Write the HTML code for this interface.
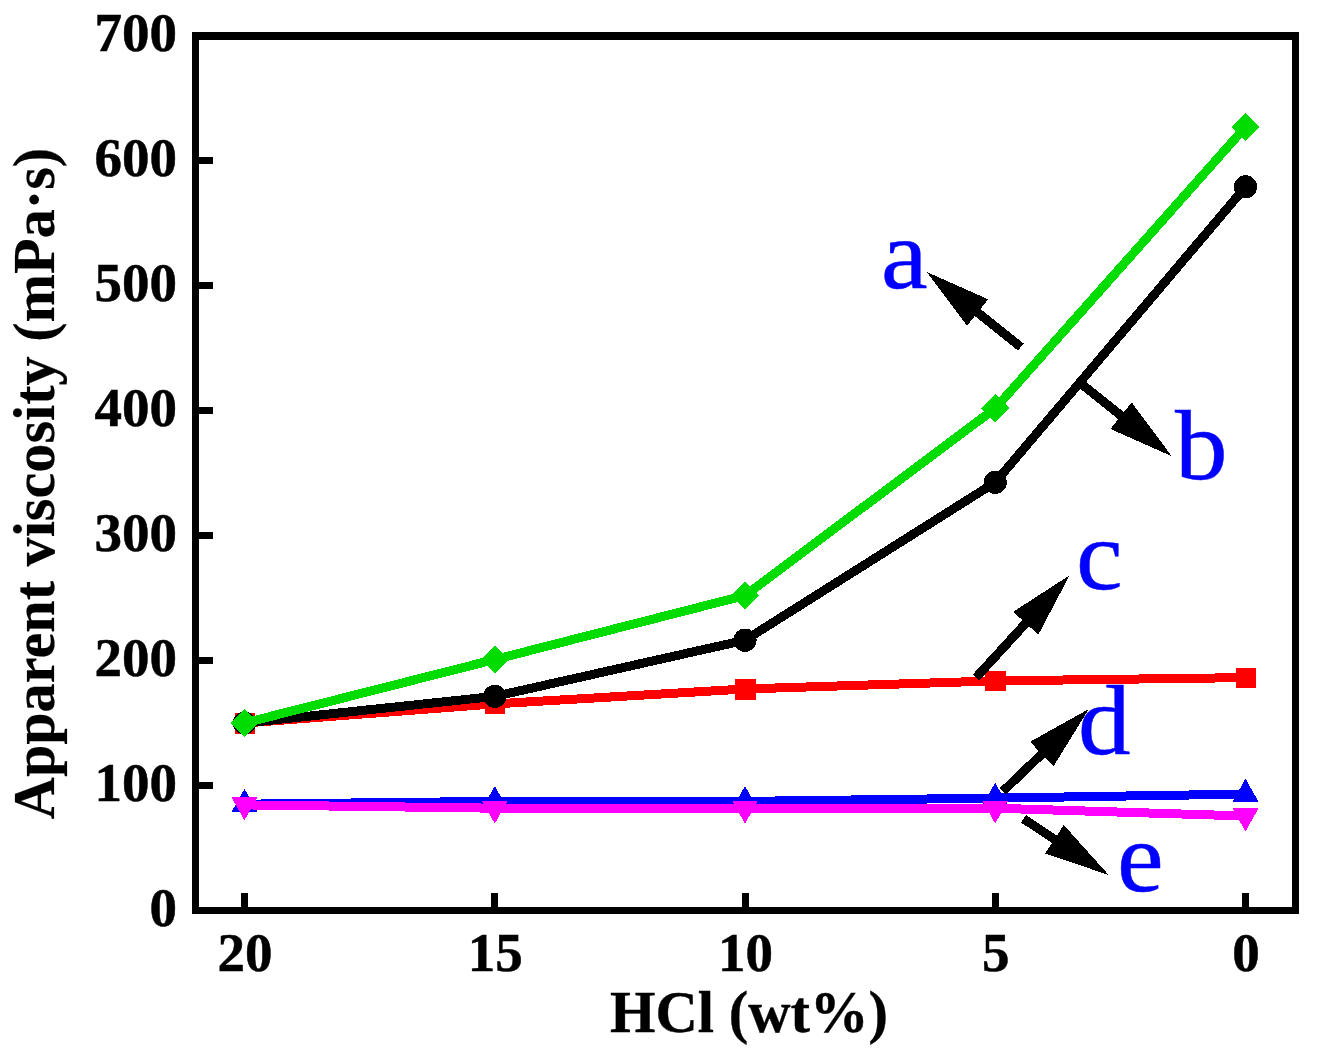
<!DOCTYPE html>
<html lang="en"><head><meta charset="utf-8"><title>Apparent viscosity vs HCl</title>
<style>html,body{margin:0;padding:0;background:#fff}svg{display:block}text{font-family:"Liberation Serif",serif}.t{font-weight:bold;font-size:55px;fill:#000;stroke:#000;stroke-width:0.5px}.ti{font-weight:bold;font-size:58.5px;fill:#000;stroke:#000;stroke-width:0.4px}.lb{font-size:100px;fill:#0000ff;stroke:#0000ff;stroke-width:0.5px}</style></head><body>
<svg width="1317" height="1058" viewBox="0 0 1317 1058" shape-rendering="crispEdges">
<rect width="1317" height="1058" fill="#fff"/>
<g shape-rendering="crispEdges">
<rect x="192" y="32" width="1107" height="8" fill="#000"/><rect x="192" y="907" width="1107" height="7" fill="#000"/><rect x="192" y="32" width="7" height="882" fill="#000"/><rect x="1292" y="32" width="7" height="882" fill="#000"/>
<rect x="199" y="782.0" width="14" height="7" fill="#000"/>
<rect x="199" y="657.0" width="14" height="7" fill="#000"/>
<rect x="199" y="532.0" width="14" height="7" fill="#000"/>
<rect x="199" y="407.0" width="14" height="7" fill="#000"/>
<rect x="199" y="282.0" width="14" height="7" fill="#000"/>
<rect x="199" y="157.0" width="14" height="7" fill="#000"/>
<rect x="241.0" y="893" width="7" height="14" fill="#000"/>
<rect x="491.25" y="893" width="7" height="14" fill="#000"/>
<rect x="741.5" y="893" width="7" height="14" fill="#000"/>
<rect x="991.75" y="893" width="7" height="14" fill="#000"/>
<rect x="1242.0" y="893" width="7" height="14" fill="#000"/>
</g>
<text class="t" x="177" y="926.0" text-anchor="end">0</text>
<text class="t" x="177" y="801.0" text-anchor="end">100</text>
<text class="t" x="177" y="676.0" text-anchor="end">200</text>
<text class="t" x="177" y="551.0" text-anchor="end">300</text>
<text class="t" x="177" y="426.0" text-anchor="end">400</text>
<text class="t" x="177" y="301.0" text-anchor="end">500</text>
<text class="t" x="177" y="176.0" text-anchor="end">600</text>
<text class="t" x="177" y="51.0" text-anchor="end">700</text>
<text class="t" x="245.0" y="971" text-anchor="middle">20</text>
<text class="t" x="495.25" y="971" text-anchor="middle">15</text>
<text class="t" x="745.5" y="971" text-anchor="middle">10</text>
<text class="t" x="995.75" y="971" text-anchor="middle">5</text>
<text class="t" x="1246.0" y="971" text-anchor="middle">0</text>
<text class="ti" x="749" y="1032" text-anchor="middle">HCl (wt%)</text>
<text class="ti" style="font-size:58.2px;stroke-width:0.2px" transform="translate(53.5,483.5) rotate(-90)" text-anchor="middle">Apparent viscosity (mPa·s)</text>
<g fill="#ff0000" stroke="none">
<polyline fill="none" stroke="#ff0000" stroke-width="9" stroke-linejoin="round" points="244.5,723.0 494.8,703.9 745.0,689.0 995.2,680.9 1245.5,677.6"/>
<rect x="234.5" y="713.0" width="20.5" height="20.5"/>
<rect x="484.8" y="693.9" width="20.5" height="20.5"/>
<rect x="735.0" y="679.0" width="20.5" height="20.5"/>
<rect x="985.2" y="670.9" width="20.5" height="20.5"/>
<rect x="1235.5" y="667.6" width="20.5" height="20.5"/>
</g>
<g fill="#000000" stroke="none">
<polyline fill="none" stroke="#000000" stroke-width="9" stroke-linejoin="round" points="244.5,723.0 494.8,696.4 745.0,640.2 995.2,482.4 1245.5,186.9"/>
<circle cx="244.5" cy="723.0" r="11.6"/>
<circle cx="494.8" cy="696.4" r="11.6"/>
<circle cx="745.0" cy="640.2" r="11.6"/>
<circle cx="995.2" cy="482.4" r="11.6"/>
<circle cx="1245.5" cy="186.9" r="11.6"/>
</g>
<g fill="#00dc00" stroke="none">
<polyline fill="none" stroke="#00dc00" stroke-width="9" stroke-linejoin="round" points="244.5,723.0 494.8,659.5 745.0,595.5 995.2,408.4 1245.5,127.0"/>
<polygon points="230.3,723.0 244.5,708.8 258.7,723.0 244.5,737.2"/>
<polygon points="480.6,659.5 494.8,645.3 508.9,659.5 494.8,673.7"/>
<polygon points="730.8,595.5 745.0,581.3 759.2,595.5 745.0,609.7"/>
<polygon points="981.0,408.4 995.2,394.2 1009.5,408.4 995.2,422.6"/>
<polygon points="1231.3,127.0 1245.5,112.8 1259.7,127.0 1245.5,141.2"/>
</g>
<g fill="#0000ff" stroke="none">
<polyline fill="none" stroke="#0000ff" stroke-width="9" stroke-linejoin="round" points="244.5,804.2 494.8,801.4 745.0,801.4 995.2,798.1 1245.5,794.1"/>
<polygon points="231.5,812.0 257.5,812.0 244.5,788.9"/>
<polygon points="481.8,809.1 507.8,809.1 494.8,786.0"/>
<polygon points="732.0,809.1 758.0,809.1 745.0,786.0"/>
<polygon points="982.2,805.8 1008.2,805.8 995.2,782.7"/>
<polygon points="1232.5,801.8 1258.5,801.8 1245.5,778.7"/>
</g>
<g fill="#ff00ff" stroke="none">
<polyline fill="none" stroke="#ff00ff" stroke-width="9" stroke-linejoin="round" points="244.5,804.9 494.8,808.2 745.0,808.2 995.2,808.2 1245.5,816.0"/>
<polygon points="231.5,797.2 257.5,797.2 244.5,820.3"/>
<polygon points="481.8,800.5 507.8,800.5 494.8,823.6"/>
<polygon points="732.0,800.5 758.0,800.5 745.0,823.6"/>
<polygon points="982.2,800.5 1008.2,800.5 995.2,823.6"/>
<polygon points="1232.5,808.3 1258.5,808.3 1245.5,831.4"/>
</g>
<line x1="1020.8" y1="347.0" x2="976.8" y2="311.9" stroke="#000" stroke-width="9"/>
<polygon fill="#000" points="926.8,272.0 988.2,299.3 967.0,325.8"/>
<line x1="1078.2" y1="381.3" x2="1121.9" y2="416.3" stroke="#000" stroke-width="9"/>
<polygon fill="#000" points="1171.8,456.3 1110.4,428.9 1131.7,402.4"/>
<line x1="976.0" y1="677.6" x2="1026.4" y2="622.5" stroke="#000" stroke-width="9"/>
<polygon fill="#000" points="1069.6,575.3 1038.3,634.7 1013.2,611.8"/>
<line x1="1003.0" y1="791.2" x2="1042.5" y2="753.4" stroke="#000" stroke-width="9"/>
<polygon fill="#000" points="1088.7,709.1 1053.5,766.3 1030.0,741.8"/>
<line x1="1023.5" y1="818.8" x2="1055.3" y2="839.8" stroke="#000" stroke-width="9"/>
<polygon fill="#000" points="1108.7,875.0 1045.1,853.4 1063.8,825.0"/>
<text class="lb" transform="translate(881,288) scale(1.05,1)">a</text>
<text class="lb" transform="translate(1175,478.8) scale(1.05,1)">b</text>
<text class="lb" transform="translate(1076,588.7) scale(1.05,1)">c</text>
<text class="lb" transform="translate(1078,754.2) scale(1.05,1)">d</text>
<text class="lb" transform="translate(1117,890.7) scale(1.05,1)">e</text>
</svg></body></html>
